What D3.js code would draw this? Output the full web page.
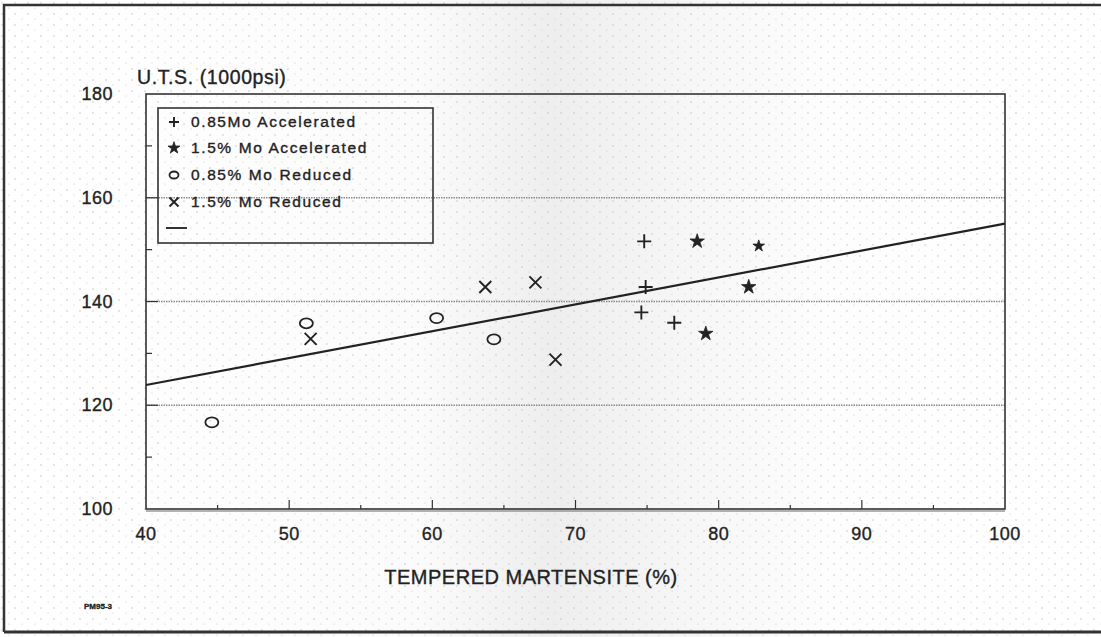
<!DOCTYPE html>
<html><head><meta charset="utf-8">
<script src="https://cdn.jsdelivr.net/npm/d3@7"></script>
<style>html,body{margin:0;padding:0;background:#fff;}svg{display:block;}text{font-family:"Liberation Sans",Arial,sans-serif;fill:#222;stroke:#222;stroke-width:0.35;}</style>
</head><body><svg id="c" width="1101" height="637"></svg>
<script>
// ---- data ----
const plusX = [74.8, 74.9, 74.6, 76.9];
const plusY = [151.6, 142.8, 137.9, 135.9];
const starX = [78.5, 82.8, 82.1, 79.1];
const starY = [151.6, 150.7, 142.8, 133.8];
const circX = [44.6, 51.2, 60.3, 64.3];
const circY = [116.7, 135.8, 136.8, 132.7];
const crossX = [51.5, 63.7, 67.2, 68.6];
const crossY = [132.8, 142.8, 143.7, 128.8];
const fitX = [40, 100];
const fitY = [123.9, 155.0];
const xTicks = [40, 50, 60, 70, 80, 90, 100];
const yTicks = [100, 120, 140, 160, 180];
const yGrid = [120, 140, 160];
const legendLabels = ["0.85Mo Accelerated", "1.5% Mo Accelerated", "0.85% Mo Reduced", "1.5% Mo Reduced", ""];
const legendKinds = ["plus", "star", "circle", "cross", "line"];

const svg = d3.select("#c");
const W = 1101, H = 637;
const defs = svg.append("defs");
const pat = defs.append("pattern").attr("id","dots").attr("width",13).attr("height",11).attr("patternUnits","userSpaceOnUse");
pat.append("circle").attr("cx",2).attr("cy",3).attr("r",0.7).attr("fill","#b8b8b8");
pat.append("circle").attr("cx",9).attr("cy",8).attr("r",0.6).attr("fill","#c4c4c4");
const grad = defs.append("linearGradient").attr("id","band").attr("x1","0").attr("x2","1").attr("y1","0").attr("y2","0");
[[0,"#ffffff"],[0.38,"#fbfbfb"],[0.5,"#eeeeee"],[0.62,"#f6f6f6"],[0.75,"#fdfdfd"],[1,"#ffffff"]].forEach(s=>grad.append("stop").attr("offset",s[0]).attr("stop-color",s[1]));

svg.append("rect").attr("width",W).attr("height",H).attr("fill","url(#band)");
svg.append("rect").attr("width",W).attr("height",H).attr("fill","url(#dots)");

// outer frame
svg.append("path").attr("d","M4,632 L4,5 L1101,5").attr("fill","none").attr("stroke","#333").attr("stroke-width",2.5);
svg.append("line").attr("x1",4).attr("x2",1101).attr("y1",632).attr("y2",632).attr("stroke","#333").attr("stroke-width",3);

const x = d3.scaleLinear().domain([40,100]).range([146,1005]);
const y = d3.scaleLinear().domain([100,180]).range([509,94]);

// gridlines
svg.append("g").selectAll("line").data(yGrid).join("line")
  .attr("x1",x(40)).attr("x2",x(100)).attr("y1",d=>y(d)).attr("y2",d=>y(d))
  .attr("stroke","#8a8a8a").attr("stroke-width",1.6).attr("stroke-dasharray","1.5,1");

// minor ticks
const yMinor = [110,130,150,170];
svg.append("g").selectAll("line").data(yMinor).join("line")
  .attr("x1",x(40)).attr("x2",x(40)+6).attr("y1",d=>y(d)).attr("y2",d=>y(d)).attr("stroke","#333").attr("stroke-width",1.2);
svg.append("g").selectAll("line").data(yGrid).join("line")
  .attr("x1",x(40)).attr("x2",x(40)+12).attr("y1",d=>y(d)).attr("y2",d=>y(d)).attr("stroke","#333").attr("stroke-width",1.2);
const xMinor = [45,55,65,75,85,95];
svg.append("g").selectAll("line").data(xMinor).join("line")
  .attr("x1",d=>x(d)).attr("x2",d=>x(d)).attr("y1",y(100)).attr("y2",y(100)-4).attr("stroke","#333").attr("stroke-width",1.2);
svg.append("g").selectAll("line").data(xTicks.slice(1,-1)).join("line")
  .attr("x1",d=>x(d)).attr("x2",d=>x(d)).attr("y1",y(100)).attr("y2",y(100)-9).attr("stroke","#333").attr("stroke-width",1.2);

// plot frame
svg.append("rect").attr("x",x(40)).attr("y",y(180)).attr("width",x(100)-x(40)).attr("height",y(100)-y(180))
  .attr("fill","none").attr("stroke","#333").attr("stroke-width",1.6);
svg.append("line").attr("x1",x(40)).attr("x2",x(100)).attr("y1",y(100)+2).attr("y2",y(100)+2).attr("stroke","#666").attr("stroke-width",1);

// tick labels
svg.append("g").selectAll("text").data(yTicks).join("text")
  .attr("x",113).attr("y",d=>y(d)+6).attr("text-anchor","end").attr("font-size",18).attr("letter-spacing",0.5).text(d=>d);
svg.append("g").selectAll("text").data(xTicks).join("text")
  .attr("x",d=>x(d)).attr("y",y(100)+31).attr("text-anchor","middle").attr("font-size",18).attr("letter-spacing",0.5).text(d=>d);

svg.append("text").attr("x",137).attr("y",84).attr("font-size",19.5).attr("letter-spacing",0.6).text("U.T.S. (1000psi)");
svg.append("text").attr("x",531).attr("y",584).attr("text-anchor","middle").attr("font-size",20).attr("letter-spacing",0.5).text("TEMPERED MARTENSITE (%)");
svg.append("text").attr("x",84).attr("y",609).attr("font-size",8).attr("font-weight","bold").attr("stroke-width",0).text("PM95-3");

// fit line
svg.append("line").attr("x1",x(fitX[0])).attr("y1",y(fitY[0])).attr("x2",x(fitX[1])).attr("y2",y(fitY[1]))
  .attr("stroke","#222").attr("stroke-width",2.2);

// markers
const drawPlus = (g,cx,cy,s)=>g.append("path").attr("d",`M${cx-s},${cy}H${cx+s}M${cx},${cy-s}V${cy+s}`).attr("stroke","#222").attr("stroke-width",1.9).attr("fill","none");
const drawCross = (g,cx,cy,s)=>g.append("path").attr("d",`M${cx-s},${cy-s}L${cx+s},${cy+s}M${cx-s},${cy+s}L${cx+s},${cy-s}`).attr("stroke","#222").attr("stroke-width",1.9).attr("fill","none");
const drawCirc = (g,cx,cy,rx,ry)=>g.append("ellipse").attr("cx",cx).attr("cy",cy).attr("rx",rx).attr("ry",ry).attr("stroke","#222").attr("stroke-width",1.8).attr("fill","none");
const drawStar = (g,cx,cy,sz)=>g.append("path").attr("d",d3.symbol().type(d3.symbolStar).size(sz)()).attr("transform",`translate(${cx},${cy})`).attr("fill","#222").attr("stroke","#222").attr("stroke-width",0.8);

const gm = svg.append("g");
plusX.forEach((v,i)=>drawPlus(gm,x(v),y(plusY[i]),7));
starX.forEach((v,i)=>drawStar(gm,x(v),y(starY[i]),i===1?42:65));
circX.forEach((v,i)=>drawCirc(gm,x(v),y(circY[i]),6.5,5));
crossX.forEach((v,i)=>drawCross(gm,x(v),y(crossY[i]),6));

// legend
const lg = svg.append("g");
lg.append("rect").attr("x",158).attr("y",108).attr("width",275).attr("height",135).attr("fill","none").attr("stroke","#333").attr("stroke-width",1.6);
const rowY = [122,148,175,202,228];
legendKinds.forEach((k,i)=>{
  const cy = rowY[i], cx = 174;
  if(k==="plus") drawPlus(lg,cx,cy,5);
  if(k==="star") drawStar(lg,cx,cy,45);
  if(k==="circle") drawCirc(lg,cx,cy,4.5,3.5);
  if(k==="cross") drawCross(lg,cx,cy,4.5);
  if(k==="line") lg.append("line").attr("x1",166).attr("x2",187).attr("y1",cy).attr("y2",cy).attr("stroke","#333").attr("stroke-width",2);
  lg.append("text").attr("x",191).attr("y",cy+5).attr("font-size",15.5).attr("letter-spacing",1.6).text(legendLabels[i]);
});
</script></body></html>
